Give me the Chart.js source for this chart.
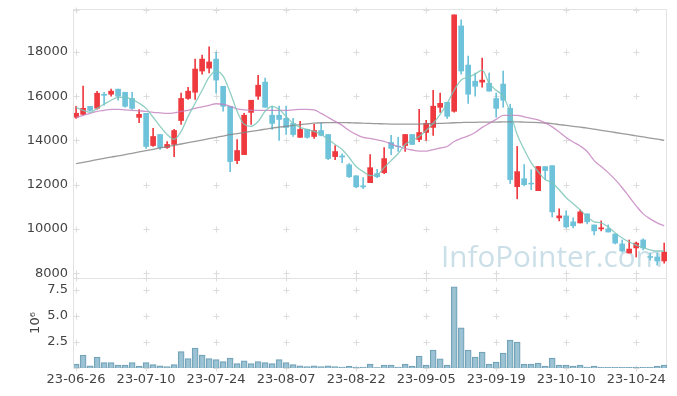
<!DOCTYPE html>
<html>
<head>
<meta charset="utf-8">
<script src="https://cdn.jsdelivr.net/npm/chart.js@4"></script>
<style>
  html, body { margin: 0; padding: 0; background: #fff; }
  #wrap { width: 677px; height: 396px; }
</style>
</head>
<body>
<div id="wrap"><canvas id="stockChart"></canvas></div>
<script>
const dates = [
    '23-06-26','23-06-27','23-06-28','23-06-29','23-06-30',
    '23-07-03','23-07-04','23-07-05','23-07-06','23-07-07',
    '23-07-10','23-07-11','23-07-12','23-07-13','23-07-14',
    '23-07-17','23-07-18','23-07-19','23-07-20','23-07-21',
    '23-07-24','23-07-25','23-07-26','23-07-27','23-07-28',
    '23-07-31','23-08-01','23-08-02','23-08-03','23-08-04',
    '23-08-07','23-08-08','23-08-09','23-08-10','23-08-11',
    '23-08-14','23-08-16','23-08-17','23-08-18','23-08-21',
    '23-08-22','23-08-23','23-08-24','23-08-25','23-08-28',
    '23-08-29','23-08-30','23-08-31','23-09-01','23-09-04',
    '23-09-05','23-09-06','23-09-07','23-09-08','23-09-11',
    '23-09-12','23-09-13','23-09-14','23-09-15','23-09-18',
    '23-09-19','23-09-20','23-09-21','23-09-22','23-09-25',
    '23-09-26','23-09-27','23-10-04','23-10-05','23-10-06',
    '23-10-10','23-10-11','23-10-12','23-10-13','23-10-16',
    '23-10-17','23-10-18','23-10-19','23-10-20','23-10-23',
    '23-10-24','23-10-25','23-10-26','23-10-27','23-10-30'
];

const open = [
    15050, 15180, 15545, 15455, 16090, 16090, 16320, 16180, 15900, 15045,
    15227, 13770, 14270, 13680, 13820, 14900, 15900, 16180, 17140, 17270,
    17680, 16450, 15545, 13090, 13360, 15270, 16000, 16640, 15140, 15140,
    15000, 14770, 14140, 14500, 14180, 14450, 14270, 13270, 13300, 12900,
    12400, 11950, 12090, 12500, 12545, 13910, 13740, 13770, 14270, 14045,
    14360, 14590, 15500, 15730, 15320, 19180, 17410, 16680, 16640, 16590,
    15900, 16550, 15450, 11910, 12270, 12070, 11730, 12820, 12860, 10500,
    10590, 10320, 10270, 10680, 10180, 10000, 10000, 9770, 9320, 8910,
    9140, 9500, 8750, 8730, 8550
];
const high = [
    15545, 16455, 15545, 16227, 16180, 16320, 16320, 16180, 16180, 15400,
    15227, 14545, 14270, 13950, 14500, 16140, 16400, 17680, 17860, 18230,
    18000, 16450, 15545, 14045, 15230, 15820, 16950, 16820, 15550, 15550,
    15550, 15000, 14860, 14500, 14730, 14770, 14270, 13770, 13400, 12950,
    12410, 12320, 13360, 12700, 13680, 14230, 14140, 14270, 14270, 15410,
    14910, 16270, 16140, 15730, 19680, 19450, 17820, 17050, 17730, 17050,
    16140, 17140, 15640, 13730, 12910, 12680, 12820, 12820, 12860, 10910,
    10820, 10500, 10860, 10680, 10180, 10360, 10180, 9770, 9500, 9500,
    9410, 9550, 8910, 8910, 9360
];
const low = [
    15000, 15150, 15320, 15410, 15600, 16000, 15820, 15500, 15400, 14800,
    13636, 13727, 13590, 13640, 13270, 14730, 15860, 15860, 17000, 17050,
    16140, 15320, 12590, 12950, 13360, 14730, 15860, 15500, 14500, 14000,
    14270, 14180, 14140, 14100, 14090, 14200, 13130, 13130, 13000, 12320,
    11860, 11820, 12090, 12320, 12500, 13360, 13500, 13500, 13820, 13950,
    14000, 14230, 15270, 15000, 15280, 17000, 15680, 16000, 16410, 16230,
    15050, 15500, 12050, 11360, 11950, 11770, 11730, 12230, 10540, 10360,
    10050, 10050, 10270, 10230, 9730, 9910, 9860, 9320, 8950, 8910,
    8730, 9050, 8590, 8360, 8450
];
const close = [
    15230, 15455, 15360, 16136, 16040, 16230, 16000, 15545, 15450, 15180,
    13727, 14180, 13680, 13820, 14450, 15900, 16230, 17230, 17680, 17550,
    16730, 15545, 13045, 13545, 15140, 15820, 16500, 15500, 14770, 14950,
    14590, 14270, 14500, 14140, 14450, 14230, 13180, 13500, 13250, 12360,
    11900, 11900, 12770, 12360, 13180, 13640, 13720, 14270, 13820, 14360,
    14770, 15550, 15680, 15090, 19680, 17140, 16090, 16450, 16730, 16230,
    15450, 15820, 12230, 12590, 12000, 12030, 12820, 12640, 10770, 10590,
    10090, 10140, 10770, 10320, 9910, 10050, 9860, 9360, 9000, 9090,
    9360, 9140, 8710, 8550, 8950
];
// volume, millions of shares
const volume = [
    0.38, 1.25, 0.22, 1.06, 0.51, 0.51, 0.29, 0.29, 0.51, 0.19,
    0.51, 0.32, 0.22, 0.13, 0.32, 1.57, 0.90, 1.92, 1.25, 0.90,
    0.80, 0.61, 0.96, 0.42, 0.70, 0.42, 0.61, 0.51, 0.42, 0.80,
    0.51, 0.32, 0.22, 0.13, 0.22, 0.13, 0.22, 0.13, 0.10, 0.16,
    0.10, 0.10, 0.38, 0.03, 0.29, 0.29, 0.10, 0.38, 0.19, 1.15,
    0.29, 1.73, 0.87, 0.29, 7.79, 3.85, 1.73, 1.06, 1.54, 0.38,
    0.58, 1.44, 2.69, 2.50, 0.38, 0.38, 0.48, 0.19, 0.96, 0.29,
    0.29, 0.19, 0.29, 0.10, 0.19, 0.07, 0.07, 0.07, 0.07, 0.07,
    0.07, 0.07, 0.07, 0.19, 0.29
];
const ma5 = [
    15500, 15360, 15270, 15450, 15640, 15820, 15950, 15950, 15860, 15680,
    15450, 15050, 14640, 14270, 14050, 14410, 15090, 15680, 16270, 16860,
    17140, 16910, 16180, 15320, 14730, 14640, 14860, 15320, 15540, 15410,
    15090, 14770, 14590, 14500, 14410, 14270, 14050, 13820, 13590, 13230,
    12820, 12590, 12410, 12450, 12770, 13090, 13410, 13820, 14000, 14180,
    14450, 14770, 15180, 15680, 16270, 16730, 16860, 17000, 17180, 16590,
    16270, 16000, 15270, 14270, 13590, 13000, 12590, 12230, 12090, 11770,
    11410, 11140, 10860, 10550, 10320, 10270, 10090, 9820, 9590, 9410,
    9270, 9140, 9050, 9000, 9000
];
const ma20 = [
    15045, 15136, 15227, 15317, 15363, 15408, 15408, 15385, 15363, 15340,
    15317, 15272, 15250, 15227, 15250, 15317, 15363, 15454, 15520, 15590,
    15660, 15636, 15545, 15430, 15385, 15363, 15363, 15363, 15363, 15363,
    15363, 15385, 15408, 15408, 15385, 15227, 15045, 14863, 14681, 14454,
    14272, 14136, 14090, 14022, 13954, 13840, 13727, 13636, 13568, 13522,
    13522, 13590, 13659, 13727, 13954, 14090, 14204, 14363, 14590, 14772,
    14954, 15136, 15136, 15136, 15068, 15000, 14931, 14795, 14613, 14386,
    14136, 13931, 13750, 13500, 13090, 12818, 12545, 12227, 11863, 11454,
    11045, 10681, 10454, 10273, 10136
];
const ma120 = [
    12950, 13010, 13070, 13130, 13190, 13250, 13300, 13360, 13420, 13480,
    13540, 13600, 13660, 13720, 13780, 13840, 13900, 13960, 14020, 14080,
    14140, 14200, 14260, 14310, 14360, 14410, 14460, 14510, 14560, 14600,
    14640, 14680, 14720, 14750, 14780, 14800, 14810, 14810, 14810, 14800,
    14790, 14780, 14770, 14760, 14750, 14740, 14740, 14740, 14740, 14740,
    14750, 14760, 14770, 14780, 14800, 14810, 14820, 14820, 14830, 14830,
    14830, 14840, 14840, 14840, 14830, 14820, 14810, 14790, 14760, 14720,
    14680, 14640, 14600, 14560, 14510, 14460, 14410, 14360, 14310, 14260,
    14210, 14160, 14110, 14060, 14000
];
const xTickIdx = [0, 10, 20, 30, 40, 50, 60, 70, 80];
const priceTicks = [8000, 10000, 12000, 14000, 16000, 18000];
const volTicks = [2.5, 5.0, 7.5];

const upColor = '#ee3a3f';
const downColor = '#6ec3da';
const candleColors = open.map((o, i) => close[i] >= o ? upColor : downColor);

const pts = arr => arr.map((v, i) => ({ x: i, y: v }));
const tickFont = { size: 13, family: 'DejaVu Sans' };

// small "+" marks at grid crossings, panel borders, watermark
const gridMarks = {
    id: 'gridMarks',
    beforeDatasetsDraw(chart) {
        const { ctx, chartArea: a, scales } = chart;
        const yP = scales.y, yV = scales.yv, x = scales.x;
        ctx.save();
        ctx.strokeStyle = '#e3e3e3';
        ctx.lineWidth = 1;
        ctx.beginPath();
        ctx.rect(a.left - 0.5, a.top - 0.5, a.right - a.left, a.bottom - a.top);
        ctx.moveTo(a.left, Math.round(yP.bottom) + 0.5);
        ctx.lineTo(a.right, Math.round(yP.bottom) + 0.5);
        ctx.stroke();

        const xs = xTickIdx.map(v => Math.round(x.getPixelForValue(v)) + 0.5);
        const ys = [a.top, yP.bottom, a.bottom]
            .concat(priceTicks.map(v => yP.getPixelForValue(v)))
            .concat(volTicks.map(v => yV.getPixelForValue(v)))
            .map(v => Math.round(v) + 0.5);
        ctx.strokeStyle = '#dcdcdc';
        ctx.beginPath();
        xs.forEach(px => ys.forEach(py => {
            ctx.moveTo(px - 3, py); ctx.lineTo(px + 3, py);
            ctx.moveTo(px, py - 3); ctx.lineTo(px, py + 3);
        }));
        ctx.stroke();

        // watermark
        const text = 'InfoPointer.com';
        let size = 30;
        ctx.font = size + 'px "Open Sans", sans-serif';
        size = size * 222 / ctx.measureText(text).width;
        ctx.font = size + 'px "Open Sans", sans-serif';
        ctx.fillStyle = 'rgba(160, 196, 214, 0.55)';
        ctx.textBaseline = 'alphabetic';
        ctx.fillText(text, 441, 267);
        ctx.restore();
    }
};

const lineStyle = { pointRadius: 0, borderWidth: 1.3, cubicInterpolationMode: 'monotone', yAxisID: 'y', order: 0 };

const ctx = document.getElementById('stockChart').getContext('2d');
new Chart(ctx, {
    type: 'bar',
    data: {
        datasets: [
            { type: 'line', label: 'MA5', data: pts(ma5), borderColor: 'rgba(125, 198, 185, 0.85)', ...lineStyle },
            { type: 'line', label: 'MA20', data: pts(ma20), borderColor: 'rgba(196, 128, 190, 0.8)', ...lineStyle },
            { type: 'line', label: 'MA120', data: pts(ma120), borderColor: 'rgba(130, 130, 130, 0.8)', ...lineStyle },
            {
                label: 'body', data: open.map((o, i) => ({ x: i, y: [o, close[i]] })),
                yAxisID: 'y', backgroundColor: candleColors,
                barThickness: 5, grouped: false, order: 1
            },
            {
                label: 'wick', data: low.map((l, i) => ({ x: i, y: [l, high[i]] })),
                yAxisID: 'y', backgroundColor: candleColors,
                barThickness: 1, grouped: false, order: 2
            },
            {
                label: 'volume', data: pts(volume), yAxisID: 'yv',
                backgroundColor: 'rgba(145, 188, 207, 0.9)', borderColor: '#6f9fb5',
                borderWidth: 1, barThickness: 6, grouped: false, order: 3
            }
        ]
    },
    options: {
        responsive: true,
        maintainAspectRatio: false,
        animation: false,
        layout: { padding: { top: 10, right: 10, left: 0, bottom: 0 } },
        plugins: { legend: { display: false }, tooltip: { enabled: false } },
        scales: {
            x: {
                type: 'linear', min: -0.3, max: 84.4, offset: false,
                grid: { display: false, drawTicks: false }, border: { display: false },
                afterBuildTicks: s => { s.ticks = xTickIdx.map(v => ({ value: v })); },
                afterFit: s => { s.height = 28; s.paddingLeft = 0; s.paddingRight = 0; },
                ticks: {
                    callback: v => dates[v], maxRotation: 0, autoSkip: false,
                    color: '#444', font: tickFont, padding: 4
                }
            },
            yv: {
                type: 'linear', position: 'left', stack: 'panels', stackWeight: 90,
                min: 0, max: 8.65,
                grid: { display: false, drawTicks: false }, border: { display: false },
                afterBuildTicks: s => { s.ticks = volTicks.map(v => ({ value: v })); },
                afterFit: s => { s.width = 74; s.paddingTop = 0; s.paddingBottom = 0; },
                title: { display: true, text: '10⁶', color: '#444', font: tickFont, padding: { top: 28, bottom: 0 } },
                ticks: { callback: v => v.toFixed(1), color: '#444', font: tickFont, padding: 6 }
            },
            y: {
                type: 'linear', position: 'left', stack: 'panels', stackWeight: 268,
                min: 7780, max: 19900,
                grid: { display: false, drawTicks: false }, border: { display: false },
                afterBuildTicks: s => { s.ticks = priceTicks.map(v => ({ value: v })); },
                afterFit: s => { s.width = 74; s.paddingTop = 0; s.paddingBottom = 0; },
                ticks: { callback: v => String(v), color: '#444', font: tickFont, padding: 6 }
            }
        }
    },
    plugins: [gridMarks]
});
</script>
</body>
</html>
